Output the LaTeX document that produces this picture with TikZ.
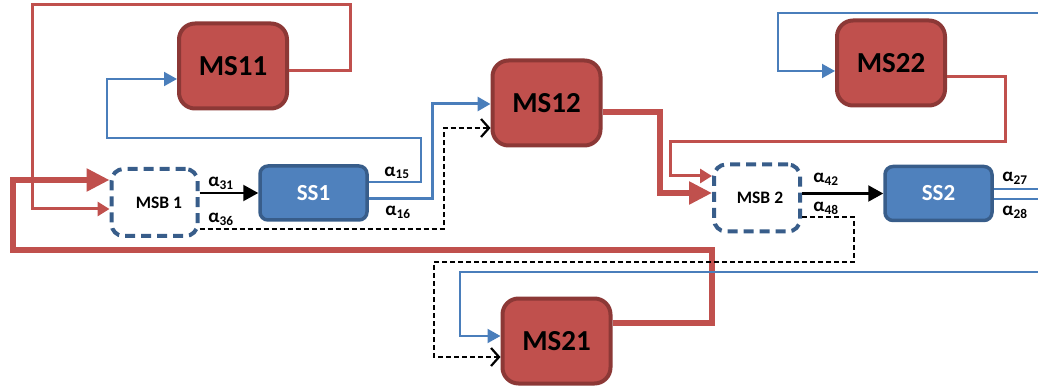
\documentclass[tikz,border=0pt]{standalone}
\usepackage{fontspec}
\setmainfont{Carlito}
\usetikzlibrary{arrows.meta}

\definecolor{msred}{HTML}{C0504D}
\definecolor{msdark}{HTML}{8C3836}
\definecolor{ssblue}{HTML}{4F81BD}
\definecolor{ssdark}{HTML}{385D8A}
\definecolor{wire}{HTML}{4A7EBB}

\begin{document}
\begin{tikzpicture}[x=1pt,y=-1pt,>=Stealth,
  msbox/.style={draw=msdark,fill=msred,line width=4pt,rounded corners=16pt,
    minimum width=108pt,minimum height=85pt,inner sep=0pt,
    font=\fontsize{29}{30}\selectfont\bfseries},
  ssbox/.style={draw=ssdark,fill=ssblue,line width=3.5pt,rounded corners=8pt,
    minimum width=107pt,minimum height=54pt,inner sep=0pt,text=white,
    font=\fontsize{23}{24}\selectfont\bfseries},
  msbbox/.style={draw=ssdark,fill=white,line width=4pt,dash pattern=on 10pt off 6pt,
    rounded corners=12pt,minimum width=86pt,minimum height=67pt,inner sep=0pt,
    font=\fontsize{17.5}{18}\selectfont\bfseries},
  redthin/.style={msred,line width=3pt,>={Triangle[length=12pt,width=14pt]}},
  redthick/.style={msred,line width=5.5pt,>={Triangle[length=23pt,width=22pt]}},
  blueline/.style={wire,line width=2pt,>={Triangle[length=13pt,width=14pt]}},
  flowline/.style={black,line width=2.2pt,>={Triangle[length=15pt,width=16pt]}},
  dashline/.style={black,line width=2pt,dash pattern=on 5pt off 3pt,
    >={Straight Barb[length=8pt,width=18pt,line width=2.2pt]}},
  albl/.style={inner sep=0pt,font=\fontsize{19}{20}\selectfont\bfseries}]
  \useasboundingbox (0,0) rectangle (1038,387);

  % boxes
  \node[msbox] (ms11) at (233,66) {MS11};
  \node[msbox] (ms12) at (546.5,103) {MS12};
  \node[msbox] (ms22) at (891,63) {MS22};
  \node[msbox] (ms21) at (556.5,341) {MS21};
  \node[ssbox] (ss1) at (313.5,193) {SS1};
  \node[ssbox] (ss2) at (938.5,193.5) {SS2};
  \node[msbbox] (msb1) at (154.5,202.5) {\hspace{9pt}MSB 1};
  \node[msbbox] (msb2) at (757,198) {\hspace{6pt}MSB 2};

  % loose ends on the right border
  \coordinate (in22) at (1038,13);
  \coordinate (in21) at (1038,272);
  \coordinate (out27) at (1038,189);
  \coordinate (out28) at (1038,199);

  % red feedback
  \draw[redthick,->] ([yshift=18pt]ms21.east) -| (712,250) -| (13,180) -- ([yshift=22.5pt]msb1.west);
  \draw[redthin,->] ([yshift=-5pt]ms11.east) -| (350,5) -| (32,209) -- ([yshift=-6.5pt]msb1.west);
  \draw[redthick,->] ([yshift=-9pt]ms12.east) -| (660,193) -- ([yshift=5pt]msb2.west);
  \draw[redthin,->] ([yshift=-14pt]ms22.east) -| (1005,142) -| (670,176) -- ([yshift=22pt]msb2.west);

  % blue outputs
  \draw[blueline,->] ([yshift=11pt]ss1.east) -| (421,138) -| (107,79) -- ([yshift=-13pt]ms11.west);
  \draw[blueline,line width=3pt,->] ([yshift=-6pt]ss1.east) -| (432,104) -- ([yshift=-1pt]ms12.west);
  \draw[blueline,->] (in22) -| (778,71) -- ([yshift=-8pt]ms22.west);
  \draw[blueline,->] (in21) -| (460,336) -- ([yshift=5pt]ms21.west);
  \draw[blueline] ([yshift=4.5pt]ss2.east) -- (out27);
  \draw[blueline] ([yshift=-5.5pt]ss2.east) -- (out28);

  % msb to ss and dashed bypass
  \draw[flowline,->] (msb1.east |- ss1.west) -- (ss1.west);
  \draw[flowline,->] (msb2.east |- ss2.west) -- (ss2.west);
  \draw[dashline,->] ([yshift=-26.5pt]msb1.east) -| (444,128) -- ([yshift=-25pt]ms12.west);
  \draw[dashline,->] ([yshift=-19pt]msb2.east) -| (854,262) -| (434,357) -- ([yshift=-16pt]ms21.west);

  % weights
  \node[albl] (a31) at (221,183) {α\textsubscript{31}};
  \node[albl] (a36) at (221,219) {α\textsubscript{36}};
  \node[albl] (a15) at (397,173) {α\textsubscript{15}};
  \node[albl] (a16) at (398,212) {α\textsubscript{16}};
  \node[albl] (a42) at (826,179) {α\textsubscript{42}};
  \node[albl] (a48) at (826,208) {α\textsubscript{48}};
  \node[albl] (a27) at (1015,178) {α\textsubscript{27}};
  \node[albl] (a28) at (1015,212) {α\textsubscript{28}};
\end{tikzpicture}
\end{document}
